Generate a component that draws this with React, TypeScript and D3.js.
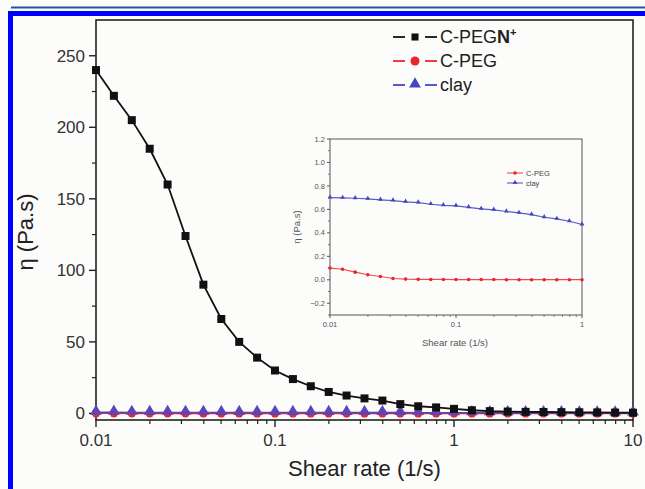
import * as d3 from 'd3';
import React, { useRef, useEffect } from 'react';

// shear rates, 10 points per decade
const mainRates = d3.range(31).map(i => Math.pow(10, -2 + i / 10));
const insetRates = d3.range(21).map(i => Math.pow(10, -2 + i / 10));

const cpegnPlus = [240, 222, 205, 185, 160, 124, 90, 66, 50, 39, 30, 24, 19, 15, 12.5, 10.5, 9, 6.5, 5, 4.2, 3.2, 2.2, 1.6, 1.3, 1.1, 1.0, 0.9, 0.8, 0.7, 0.6, 0.5];
const cpegMain = [0.1, 0.09, 0.065, 0.043, 0.028, 0.011, 0.006, 0.004, 0.003, 0.003, 0.002, 0.002, 0.002, 0.002, 0.001, 0.001, 0.001, 0.001, 0.001, 0.001, 0.001, 0, 0, 0, 0, 0, 0, 0, 0, 0, 0];
const clayMain = [0.7, 0.698, 0.695, 0.689, 0.681, 0.675, 0.664, 0.658, 0.644, 0.635, 0.63, 0.618, 0.604, 0.596, 0.582, 0.57, 0.556, 0.533, 0.519, 0.499, 0.471, 0.45, 0.43, 0.41, 0.39, 0.37, 0.35, 0.33, 0.31, 0.29, 0.27];

const cpegInset = [0.1, 0.09, 0.065, 0.043, 0.028, 0.011, 0.006, 0.004, 0.003, 0.003, 0.002, 0.002, 0.002, 0.002, 0.001, 0.001, 0.001, 0.001, 0.001, 0.001, 0.001];
const clayInset = [0.7, 0.698, 0.695, 0.689, 0.681, 0.675, 0.664, 0.658, 0.644, 0.635, 0.63, 0.618, 0.604, 0.596, 0.582, 0.57, 0.556, 0.533, 0.519, 0.499, 0.471];

const mainYTicks = [0, 50, 100, 150, 200, 250];
const mainXTicks = [0.01, 0.1, 1, 10];
const insetYTicks = [-0.2, 0, 0.2, 0.4, 0.6, 0.8, 1.0, 1.2];
const insetXTicks = [0.01, 0.1, 1];

const W = 645, H = 489;
const FONT = 'Liberation Sans, Arial, sans-serif';
const BLACK = '#111', RED = '#e8262e', BLUE = '#4545c4', TXT = '#333';

function minorLog(domain) {
    const out = [];
    for (let e = Math.round(Math.log10(domain[0])); e < Math.round(Math.log10(domain[1])); e++)
        for (let k = 2; k <= 9; k++) out.push(k * Math.pow(10, e));
    return out;
}

export default function App() {
    const ref = useRef();

    useEffect(() => {
        const svg = d3.select(ref.current);
        svg.selectAll('*').remove();

        svg.append('rect').attr('width', W).attr('height', H).attr('fill', '#fcfcfa');
        // page decoration
        svg.append('rect').attr('x', 11).attr('y', 6.5).attr('width', W - 11).attr('height', 2).attr('fill', '#1d55a0');
        svg.append('rect').attr('x', 8).attr('y', 11).attr('width', W - 8).attr('height', 5).attr('fill', '#0000ff');
        svg.append('rect').attr('x', 8).attr('y', 11).attr('width', 5).attr('height', H - 11).attr('fill', '#0000ff');

        // ---------- main plot ----------
        const m = { l: 96, r: 633, t: 20, b: 420 };
        const x = d3.scaleLog().domain([0.01, 10]).range([m.l, m.r]);
        const y = d3.scaleLinear().domain([-4.6, 275]).range([m.b, m.t]);

        const g = svg.append('g');
        g.append('rect').attr('x', m.l).attr('y', m.t).attr('width', m.r - m.l).attr('height', m.b - m.t)
            .attr('fill', 'none').attr('stroke', '#222').attr('stroke-width', 1.6);

        mainYTicks.forEach(v => {
            g.append('line').attr('x1', m.l - 7).attr('x2', m.l).attr('y1', y(v)).attr('y2', y(v)).attr('stroke', '#222').attr('stroke-width', 1.4);
            g.append('text').attr('x', m.l - 11).attr('y', y(v)).attr('dy', '0.35em').attr('text-anchor', 'end')
                .attr('font-size', 17).attr('font-family', FONT).attr('fill', TXT).text(v);
        });
        d3.range(25, 275, 50).forEach(v => {
            g.append('line').attr('x1', m.l - 4).attr('x2', m.l).attr('y1', y(v)).attr('y2', y(v)).attr('stroke', '#222').attr('stroke-width', 1.2);
        });
        mainXTicks.forEach(v => {
            g.append('line').attr('x1', x(v)).attr('x2', x(v)).attr('y1', m.b).attr('y2', m.b + 7).attr('stroke', '#222').attr('stroke-width', 1.4);
            g.append('text').attr('x', x(v)).attr('y', m.b + 26).attr('text-anchor', 'middle')
                .attr('font-size', 17).attr('font-family', FONT).attr('fill', TXT).text(v);
        });
        minorLog(x.domain()).forEach(v => {
            g.append('line').attr('x1', x(v)).attr('x2', x(v)).attr('y1', m.b).attr('y2', m.b + 4).attr('stroke', '#222').attr('stroke-width', 1.2);
        });

        g.append('text').attr('x', (m.l + m.r) / 2).attr('y', 476).attr('text-anchor', 'middle')
            .attr('font-size', 22).attr('font-family', FONT).attr('fill', '#222').text('Shear rate (1/s)');
        g.append('text').attr('transform', `translate(33,${232}) rotate(-90)`).attr('text-anchor', 'middle')
            .attr('font-size', 22).attr('font-family', FONT).attr('fill', '#222').text('η (Pa.s)');

        const line = (xs, ys, sx, sy) => d3.line().x((d, i) => sx(xs[i])).y(d => sy(d))(ys);
        const tri = (s) => d3.symbol().type(d3.symbolTriangle).size(s)();
        const sq = (s) => d3.symbol().type(d3.symbolSquare).size(s)();

        // C-PEG (red) and clay (blue) near zero
        g.append('path').attr('d', line(mainRates, cpegMain, x, y)).attr('fill', 'none').attr('stroke', RED).attr('stroke-width', 1.6);
        g.selectAll('.cm').data(cpegMain).enter().append('circle')
            .attr('cx', (d, i) => x(mainRates[i])).attr('cy', d => y(d)).attr('r', 4.2).attr('fill', RED);
        g.append('path').attr('d', line(mainRates, clayMain, x, y)).attr('fill', 'none').attr('stroke', '#5a44b0').attr('stroke-width', 1.6);
        g.selectAll('.tm').data(clayMain).enter().append('path')
            .attr('d', tri(60)).attr('transform', (d, i) => `translate(${x(mainRates[i])},${y(d) - 1})`).attr('fill', '#5b45b8');

        // C-PEGN+
        g.append('path').attr('d', line(mainRates, cpegnPlus, x, y)).attr('fill', 'none').attr('stroke', BLACK).attr('stroke-width', 1.8);
        g.selectAll('.sm').data(cpegnPlus).enter().append('path')
            .attr('d', sq(64)).attr('transform', (d, i) => `translate(${x(mainRates[i])},${y(d)})`).attr('fill', BLACK);

        // legend
        const leg = [
            { c: BLACK, shape: 'sq' },
            { c: RED, shape: 'ci' },
            { c: BLUE, shape: 'tr' },
        ];
        leg.forEach((L, i) => {
            const ly = 37 + i * 24;
            g.append('line').attr('x1', 393).attr('x2', 405).attr('y1', ly).attr('y2', ly).attr('stroke', L.c).attr('stroke-width', 1.8);
            g.append('line').attr('x1', 425).attr('x2', 437).attr('y1', ly).attr('y2', ly).attr('stroke', L.c).attr('stroke-width', 1.8);
            if (L.shape === 'sq') g.append('path').attr('d', sq(50)).attr('transform', `translate(415,${ly})`).attr('fill', L.c);
            if (L.shape === 'ci') g.append('circle').attr('cx', 415).attr('cy', ly).attr('r', 4.5).attr('fill', L.c);
            if (L.shape === 'tr') g.append('path').attr('d', tri(60)).attr('transform', `translate(415,${ly - 1})`).attr('fill', L.c);
        });
        const t0 = g.append('text').attr('x', 440).attr('y', 37).attr('dy', '0.35em').attr('font-size', 18).attr('font-family', FONT).attr('fill', '#222');
        t0.append('tspan').text('C-PEG');
        t0.append('tspan').attr('font-weight', 'bold').text('N');
        t0.append('tspan').attr('font-weight', 'bold').attr('font-size', 11).attr('dy', '-0.7em').text('+');
        ['C-PEG', 'clay'].forEach((s, i) => {
            g.append('text').attr('x', 440).attr('y', 61 + i * 24).attr('dy', '0.35em').attr('font-size', 18)
                .attr('font-family', FONT).attr('fill', '#222').text(s);
        });

        // ---------- inset ----------
        const n = { l: 330, r: 582, t: 139, b: 315 };
        const xi = d3.scaleLog().domain([0.01, 1]).range([n.l, n.r]);
        const yi = d3.scaleLinear().domain([-0.3, 1.2]).range([n.b, n.t]);
        const gi = svg.append('g');
        gi.append('rect').attr('x', n.l).attr('y', n.t).attr('width', n.r - n.l).attr('height', n.b - n.t)
            .attr('fill', 'none').attr('stroke', '#555').attr('stroke-width', 1);
        insetYTicks.forEach(v => {
            gi.append('line').attr('x1', n.l - 3).attr('x2', n.l).attr('y1', yi(v)).attr('y2', yi(v)).attr('stroke', '#555');
            gi.append('text').attr('x', n.l - 5).attr('y', yi(v)).attr('dy', '0.35em').attr('text-anchor', 'end')
                .attr('font-size', 7.5).attr('font-family', FONT).attr('fill', '#555').text(d3.format('.1f')(v));
        });
        d3.range(-0.3, 1.15, 0.2).forEach(v => {
            gi.append('line').attr('x1', n.l - 2).attr('x2', n.l).attr('y1', yi(v)).attr('y2', yi(v)).attr('stroke', '#777');
        });
        insetXTicks.forEach(v => {
            gi.append('line').attr('x1', xi(v)).attr('x2', xi(v)).attr('y1', n.b).attr('y2', n.b + 3).attr('stroke', '#555');
            gi.append('text').attr('x', xi(v)).attr('y', n.b + 12).attr('text-anchor', 'middle')
                .attr('font-size', 7.5).attr('font-family', FONT).attr('fill', '#555').text(v);
        });
        minorLog(xi.domain()).forEach(v => {
            gi.append('line').attr('x1', xi(v)).attr('x2', xi(v)).attr('y1', n.b).attr('y2', n.b + 2).attr('stroke', '#777');
        });
        gi.append('text').attr('x', 455).attr('y', 346).attr('text-anchor', 'middle')
            .attr('font-size', 9.5).attr('font-family', FONT).attr('fill', '#555').text('Shear rate (1/s)');
        gi.append('text').attr('transform', `translate(300,${227}) rotate(-90)`).attr('text-anchor', 'middle')
            .attr('font-size', 9.5).attr('font-family', FONT).attr('fill', '#555').text('η (Pa.s)');

        gi.append('path').attr('d', line(insetRates, cpegInset, xi, yi)).attr('fill', 'none').attr('stroke', '#ef4a50').attr('stroke-width', 1.2);
        gi.selectAll('.ci').data(cpegInset).enter().append('circle')
            .attr('cx', (d, i) => xi(insetRates[i])).attr('cy', d => yi(d)).attr('r', 1.8).attr('fill', RED);
        gi.append('path').attr('d', line(insetRates, clayInset, xi, yi)).attr('fill', 'none').attr('stroke', '#5a5ac8').attr('stroke-width', 1.2);
        gi.selectAll('.ti').data(clayInset).enter().append('path')
            .attr('d', tri(10)).attr('transform', (d, i) => `translate(${xi(insetRates[i])},${yi(d) - 0.5})`).attr('fill', BLUE);

        [{ c: '#ef4a50', s: 'C-PEG', ci: true }, { c: '#5a5ac8', s: 'clay', ci: false }].forEach((L, i) => {
            const ly = 173 + i * 10;
            gi.append('line').attr('x1', 507).attr('x2', 523).attr('y1', ly).attr('y2', ly).attr('stroke', L.c).attr('stroke-width', 1.1);
            if (L.ci) gi.append('circle').attr('cx', 515).attr('cy', ly).attr('r', 1.8).attr('fill', RED);
            else gi.append('path').attr('d', tri(10)).attr('transform', `translate(515,${ly - 0.5})`).attr('fill', BLUE);
            gi.append('text').attr('x', 526).attr('y', ly).attr('dy', '0.35em').attr('font-size', 7.5)
                .attr('font-family', FONT).attr('fill', '#444').text(L.s);
        });
    }, []);

    return (
        <svg ref={ref} width={W} height={H} style={{ position: 'absolute', left: 0, top: 0, display: 'block' }} />
    );
}
